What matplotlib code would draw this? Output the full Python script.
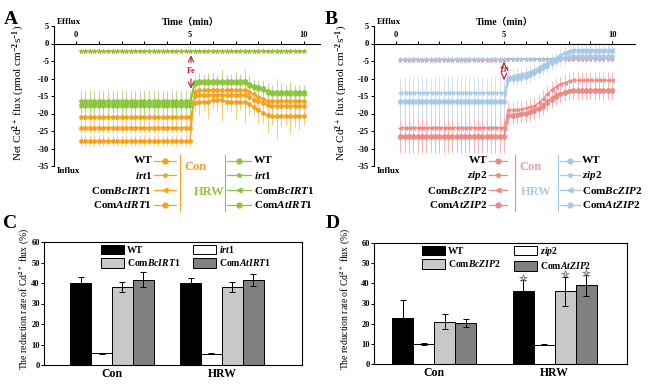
import numpy as np
import matplotlib.pyplot as plt
from matplotlib.lines import Line2D

plt.rcParams['font.family'] = ['Liberation Serif', 'Noto Sans CJK SC']
plt.rcParams['font.weight'] = 'bold'
plt.rcParams['axes.unicode_minus'] = False
plt.rcParams['mathtext.fontset'] = 'custom'
plt.rcParams['mathtext.rm'] = 'Liberation Serif:bold'
plt.rcParams['mathtext.it'] = 'Liberation Serif:italic:bold'
plt.rcParams['mathtext.bf'] = 'Liberation Serif:bold'
plt.rcParams['axes.linewidth'] = 0.8

W, H = 650, 386

# time points (min)
time = np.round(np.arange(0.2, 10.01, 0.2), 1)

# ---- panel A: Cd2+ flux, IRT1 lines (Fe added at 5 min)
a_con_wt = [-21.0]*25 + [-17.0, -16.6, -16.6, -16.6, -16.2, -16.2, -16.2, -16.6, -16.6, -16.6,
                         -16.6, -16.6, -17.3, -18.2, -19.0, -19.8, -20.5] + [-20.8]*8
a_con_mut = [-2.0]*50
a_con_bc = [-24.0]*25 + [-15.0] + [-14.6]*11 + [-15.2, -16.0, -16.5, -17.0, -17.5] + [-17.8]*8
a_con_at = [-27.8]*25 + [-13.8] + [-13.3]*11 + [-13.8, -14.5, -15.2, -15.8, -16.3] + [-16.5]*8
a_hrw_wt = [-16.5]*25 + [-11.0] + [-10.8]*11 + [-11.5, -12.2, -12.4, -12.8, -13.5] + [-13.9]*8
a_hrw_mut = [-2.1]*50
a_hrw_bc = [-17.2]*25 + [-11.4] + [-11.0]*11 + [-11.8, -12.5, -12.7, -13.1, -13.8] + [-14.1]*8
a_hrw_at = [-17.8]*25 + [-11.6] + [-11.3]*11 + [-12.0, -12.6, -12.9, -13.3, -14.0] + [-14.3]*8
a_con_err = [1.6]*25 + [2.5, 4.0, 2.5, 5.0, 2.5, 3.0, 6.0, 2.5, 3.0, 5.0, 2.5, 6.0, 3.0,
                        2.5, 4.0, 3.0, 5.0, 2.5, 6.5, 3.0, 2.5, 5.0, 3.0, 4.0, 2.5]
a_hrw_err = [3.2]*25 + [2.0, 2.5, 2.0, 2.0, 2.5, 2.0, 3.0, 2.0, 2.0, 3.0, 2.0, 2.0, 2.5,
                        2.0, 2.0, 2.5, 2.0, 2.0, 2.0, 2.5, 2.0, 3.0, 2.0, 2.0, 2.0]
a_mut_err = [0.4]*50

# ---- panel B: Cd2+ flux, ZIP2 lines (Zn added at 5 min)
b_con_wt = [-26.5]*25 + [-20.5, -20.5, -20.3, -20.0, -19.8, -19.5, -19.0, -18.5, -17.5, -16.5,
                         -15.5, -14.8, -14.3, -13.8, -13.5] + [-13.3]*10
b_con_mut = [-4.6]*25 + [-4.5]*12 + [-4.3]*13
b_con_bc = [-24.0]*25 + [-19.0, -19.0, -19.0, -18.8, -18.5, -18.2, -17.8, -17.0, -15.8, -14.5,
                         -13.2, -12.3, -11.7, -11.2, -10.8] + [-10.5]*10
b_con_at = [-26.8]*25 + [-20.8, -20.6, -20.4, -20.2, -20.0, -19.7, -19.3, -18.8, -18.0, -17.0,
                         -16.0, -15.2, -14.5, -14.0, -13.7] + [-13.5]*10
b_hrw_wt = [-16.3]*25 + [-10.0, -9.8, -9.6, -9.4, -9.2, -8.8, -8.2, -7.5, -6.8, -6.0,
                         -5.2, -4.3, -3.5, -2.8, -2.3] + [-2.0]*10
b_hrw_mut = [-4.5]*25 + [-4.4]*12 + [-4.1]*13
b_hrw_bc = [-14.0]*25 + [-9.5, -9.3, -9.0, -8.8, -8.5, -8.0, -7.5, -6.8, -6.2, -5.5,
                         -4.8, -4.0, -3.3, -2.7, -2.2] + [-1.8]*10
b_hrw_at = [-16.8]*25 + [-10.5, -10.2, -10.0, -9.8, -9.5, -9.0, -8.5, -7.8, -7.0, -6.3,
                         -5.6, -5.0, -4.5, -4.0, -3.8] + [-3.6]*10
b_con_err = [4.5]*25 + [2.5]*25
b_hrw_err = [4.5]*25 + [2.0]*25
b_mut_err = [0.5]*50

# ---- panels C, D: reduction rate (%)
groups = ['Con', 'HRW']
c_wt, c_wt_err = [40.0, 40.0], [3.0, 2.6]
c_mut, c_mut_err = [5.8, 5.6], [0.2, 0.3]
c_bc, c_bc_err = [38.2, 38.1], [2.4, 2.5]
c_at, c_at_err = [41.7, 41.4], [3.7, 3.1]
d_wt, d_wt_err = [22.7, 36.3], [9.0, 5.2]
d_mut, d_mut_err = [9.8, 9.6], [0.4, 0.3]
d_bc, d_bc_err = [21.0, 36.0], [3.6, 7.2]
d_at, d_at_err = [20.1, 39.0], [2.0, 5.1]

orange, orange_e = '#F5A21E', '#F8C46E'
green, green_e = '#8CC63F', '#B7DA8C'
pink, pink_e = '#EE8A87', '#F4B6B3'
blue, blue_e = '#A6C9E8', '#C8DDF0'
arrow_red = '#B0202A'


def fx(x):
    return x / W


def fy(y):
    return 1 - y / H


def setup_flux(ax, xlim):
    ax.set_xlim(*xlim)
    ax.set_ylim(-35, 5)
    ax.spines['right'].set_visible(False)
    ax.spines['bottom'].set_visible(False)
    ax.spines['top'].set_position(('data', 0))
    ax.xaxis.tick_top()
    ax.set_xticks([0, 5, 10])
    ax.set_xticks(range(0, 11), minor=True)
    ax.tick_params(axis='x', which='both', direction='out', length=2.5, width=0.7,
                   labelsize=6, pad=1)
    ax.set_yticks(range(-35, 6, 5))
    ax.tick_params(axis='y', direction='out', length=2.5, width=0.7, labelsize=6, pad=1)
    ax.text(5, 6.0, 'Time（min）', ha='center', va='center', fontsize=7)
    ax.text(0.01, 1.0, 'Efflux', transform=ax.transAxes, ha='left', va='bottom', fontsize=6.5)
    ax.text(0.01, -0.01, 'Influx', transform=ax.transAxes, ha='left', va='top', fontsize=6.5)
    ax.set_ylabel('Net Cd$^{2+}$ flux (pmol cm$^{-2}$s$^{-1}$)', fontsize=8)


def draw_series(ax, series, col, ecol, alpha=1.0):
    for vals, errs, mk, ms in series:
        ax.errorbar(time, vals, yerr=errs, color=col, ecolor=ecol, marker=mk, ms=ms,
                    lw=0.9, elinewidth=0.6, capsize=0, mew=0.4, alpha=alpha)


def flux_legend(names, markers, con_col, hrw_col, con_txt, hrw_txt, xs):
    rows = [161, 175, 190, 205]
    tr, l0, l1, m0, vc, cx, hx, vh, g0, g1, m1, gt = xs
    for y, name, mk in zip(rows, names, markers):
        fig.text(fx(tr), fy(y), name, ha='right', va='center', fontsize=8)
        fig.add_artist(Line2D([fx(l0), fx(l1)], [fy(y), fy(y)], color=con_col, lw=0.9))
        fig.add_artist(Line2D([fx(m0)], [fy(y)], marker=mk, color=con_col, ms=3.5, lw=0))
        fig.add_artist(Line2D([fx(g0), fx(g1)], [fy(y), fy(y)], color=hrw_col, lw=0.9))
        fig.add_artist(Line2D([fx(m1)], [fy(y)], marker=mk, color=hrw_col, ms=3.5, lw=0))
        fig.text(fx(gt), fy(y), name, ha='left', va='center', fontsize=8)
    fig.add_artist(Line2D([fx(vc), fx(vc)], [fy(155), fy(211)], color=con_col, lw=0.8))
    fig.add_artist(Line2D([fx(vh), fx(vh)], [fy(155), fy(211)], color=hrw_col, lw=0.8))
    fig.text(fx(cx), fy(167), 'Con', ha='left', va='center', fontsize=9, color=con_txt)
    fig.text(fx(hx), fy(192), 'HRW', ha='left', va='center', fontsize=9, color=hrw_txt)


def bar_panel(ax, xlim, vals, errs, labels, width, stars=False):
    x = np.arange(len(groups))
    colors = ['black', 'white', '#C8C8C8', '#808080']
    offs = [-1.5, -0.5, 0.5, 1.5]
    handles = []
    for v, e, c, o, lab in zip(vals, errs, colors, offs, labels):
        b = ax.bar(x + o * width, v, width, color=c, edgecolor='black', linewidth=0.7,
                   label=lab, zorder=2)
        ax.errorbar(x + o * width, v, yerr=e, fmt='none', ecolor='black', elinewidth=0.7,
                    capsize=2, capthick=0.7, zorder=3)
        handles.append(b)
        if stars and c != 'white':
            ax.plot(x[1] + o * width, v[1] + e[1] + 1.2, marker='*', ms=5.5,
                    mfc='#D8D8D8', mec='#707070', mew=0.5, zorder=4)
    ax.set_xlim(*xlim)
    ax.set_ylim(0, 60)
    ax.set_yticks(range(0, 61, 10))
    ax.set_xticks(x)
    ax.set_xticklabels(groups)
    ax.tick_params(axis='y', direction='out', length=2, width=0.7, labelsize=6, pad=1)
    ax.tick_params(axis='x', length=0, labelsize=8.5, pad=2)
    ax.set_ylabel('The reduction rate of Cd$^{2+}$ flux (%)', fontsize=7)
    order = [handles[0], handles[2], handles[1], handles[3]]
    return order


fig = plt.figure(figsize=(6.5, 3.86), dpi=100)

# A
ax_a = fig.add_axes([fx(54), fy(166), fx(320) - fx(54), fy(26) - fy(166)])
setup_flux(ax_a, (-0.97, 10.7))
draw_series(ax_a, [(a_con_mut, a_mut_err, '*', 3.5), (a_con_wt, a_con_err, 'o', 3),
                   (a_con_bc, a_con_err, 'o', 3), (a_con_at, a_con_err, 'o', 3)],
            orange, orange_e)
draw_series(ax_a, [(a_hrw_mut, a_mut_err, '*', 3.5), (a_hrw_wt, a_hrw_err, 'o', 3),
                   (a_hrw_bc, a_hrw_err, '<', 3), (a_hrw_at, a_hrw_err, 'h', 3)],
            green, green_e)
ax_a.yaxis.set_label_coords(-0.1, 0.52)
ax_a.annotate('', xy=(5.04, -2.6), xytext=(5.04, -6.3),
              arrowprops=dict(arrowstyle='->', color=arrow_red, lw=0.8))
ax_a.annotate('', xy=(5.04, -13.7), xytext=(5.04, -9.3),
              arrowprops=dict(arrowstyle='->', color=arrow_red, lw=0.8))
ax_a.text(5.04, -7.8, 'Fe', color=arrow_red, ha='center', va='center', fontsize=6)

# B
ax_b = fig.add_axes([fx(374), fy(166), fx(635) - fx(374), fy(26) - fy(166)])
setup_flux(ax_b, (-1.02, 11.06))
draw_series(ax_b, [(b_con_mut, b_mut_err, '*', 3.5), (b_con_wt, b_con_err, 'o', 3),
                   (b_con_bc, b_con_err, '<', 3), (b_con_at, b_con_err, 'o', 3)],
            pink, pink_e)
draw_series(ax_b, [(b_hrw_mut, b_mut_err, '*', 3.5), (b_hrw_wt, b_hrw_err, 'o', 3),
                   (b_hrw_bc, b_hrw_err, '<', 3), (b_hrw_at, b_hrw_err, 'o', 3)],
            blue, blue_e, alpha=0.85)
ax_b.yaxis.set_label_coords(-0.092, 0.52)
ax_b.annotate('', xy=(5.0, -4.5), xytext=(5.0, -6.5),
              arrowprops=dict(arrowstyle='->', color=arrow_red, lw=0.8))
ax_b.annotate('', xy=(5.0, -11.2), xytext=(5.0, -9.0),
              arrowprops=dict(arrowstyle='->', color=arrow_red, lw=0.8))
ax_b.text(5.0, -7.6, 'Zn', color=arrow_red, ha='center', va='center', fontsize=6,
          style='italic', rotation=15)

# legends of A and B
flux_legend(['WT', '$\\mathit{irt1}$', 'Com$\\mathit{BcIRT1}$', 'Com$\\mathit{AtIRT1}$'],
            ['o', '*', '<', 'o'], orange, green, '#F0A030', '#8DC63F',
            [152, 154, 176, 165, 180, 184, 194, 225, 227, 251, 239, 254])
flux_legend(['WT', '$\\mathit{zip2}$', 'Com$\\mathit{BcZIP2}$', 'Com$\\mathit{AtZIP2}$'],
            ['o', '*', '<', 'o'], pink, blue, '#F0A0A0', '#B0CDE6',
            [487, 489, 507, 498, 515, 519, 521, 558, 560, 580, 570, 582])

# C
ax_c = fig.add_axes([fx(44), fy(365), fx(302) - fx(44), fy(242) - fy(365)])
hc = bar_panel(ax_c, (-0.62, 1.73), [c_wt, c_mut, c_bc, c_at],
               [c_wt_err, c_mut_err, c_bc_err, c_at_err],
               ['WT', '$\\mathit{irt1}$', 'Com$\\mathit{BcIRT1}$', 'Com$\\mathit{AtIRT1}$'], 0.19)
ax_c.legend(hc, [h.get_label() for h in hc], ncol=2, loc='upper left',
            bbox_to_anchor=(0.22, 0.985), frameon=False, fontsize=7, handlelength=2.4,
            handleheight=1.1, columnspacing=1.3, handletextpad=0.3, labelspacing=0.25,
            borderpad=0, borderaxespad=0)
ax_c.yaxis.set_label_coords(-0.05, 0.54)

# D
ax_d = fig.add_axes([fx(374), fy(364), fx(627) - fx(374), fy(243) - fy(364)])
hd = bar_panel(ax_d, (-0.5, 1.6), [d_wt, d_mut, d_bc, d_at],
               [d_wt_err, d_mut_err, d_bc_err, d_at_err],
               ['WT', '$\\mathit{zip2}$', 'Com$\\mathit{BcZIP2}$', 'Com$\\mathit{AtZIP2}$'], 0.175,
               stars=True)
ax_d.legend(hd, [h.get_label() for h in hd], ncol=2, loc='upper left',
            bbox_to_anchor=(0.19, 0.985), frameon=False, fontsize=7, handlelength=2.4,
            handleheight=1.1, columnspacing=1.3, handletextpad=0.3, labelspacing=0.25,
            borderpad=0, borderaxespad=0)
ax_d.yaxis.set_label_coords(-0.087, 0.54)

# panel letters
for letter, (x, y) in zip('ABCD', [(11, 19), (331, 19), (10, 224), (333, 224)]):
    fig.text(fx(x), fy(y), letter, ha='center', va='center', fontsize=14)

fig.savefig('out.png', dpi=100)
